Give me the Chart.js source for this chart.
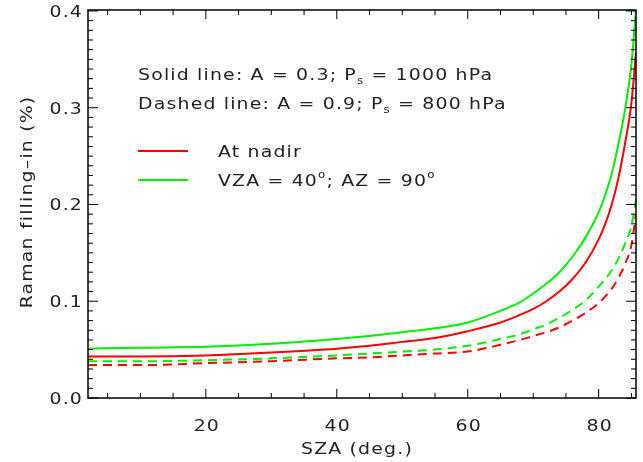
<!DOCTYPE html>
<html><head><meta charset="utf-8">
<script src="https://cdn.jsdelivr.net/npm/chart.js@4"></script>
<style>html,body{margin:0;background:#fff}#w{width:643px;height:462px}</style>
</head><body><div id="w"><canvas id="c"></canvas></div>
<script>
const sza = [2,10,20,30,40,45,50,55,60,65,68,70,72,74,76,78,80,81,82,83,84,85,85.7];
const vzaSolid   = [0.051,0.052,0.053,0.056,0.061,0.064,0.068,0.072,0.078,0.090,0.099,0.108,0.118,0.130,0.146,0.166,0.192,0.210,0.232,0.262,0.297,0.345,0.401];
const nadirSolid = [0.043,0.043,0.044,0.047,0.051,0.054,0.058,0.062,0.069,0.078,0.086,0.092,0.100,0.110,0.123,0.140,0.164,0.180,0.200,0.227,0.262,0.305,0.357];
const vzaDash    = [0.038,0.038,0.039,0.041,0.044,0.046,0.048,0.050,0.054,0.061,0.066,0.071,0.076,0.083,0.091,0.101,0.115,0.123,0.132,0.144,0.159,0.178,0.205];
const nadirDash  = [0.034,0.034,0.036,0.038,0.041,0.042,0.044,0.046,0.048,0.055,0.060,0.064,0.068,0.073,0.080,0.088,0.098,0.105,0.113,0.124,0.138,0.158,0.190];
const xTicks = [20, 40, 60, 80];
const yTicks = [0.0, 0.1, 0.2, 0.3, 0.4];
const RED = '#ff0000', GREEN = '#00ee00', TXT = '#222';
const FONT = '"DejaVu Sans", sans-serif';
const SX = 1.18;
const mk = (d, c, dash) => ({data: sza.map((x,i)=>({x, y:d[i]})), borderColor:c, borderWidth:2,
  borderDash: dash?[9,6]:[], pointRadius:0, cubicInterpolationMode:'monotone', fill:false});

function txt(g, t, x, y, size, align){
  g.font = size+'px '+FONT; g.letterSpacing = '1px';
  const w = g.measureText(t).width*SX;
  let x0 = align==='center'? x-w/2 : align==='right'? x-w : x;
  g.save(); g.translate(x0, y); g.scale(SX,1); g.textAlign='left'; g.fillText(t,0,0); g.restore();
  return w;
}

const deco = {
  id:'deco',
  afterDraw(ch){
    const g = ch.ctx, a = ch.chartArea, xs = ch.scales.x, ys = ch.scales.y;
    g.save();
    g.strokeStyle = '#000'; g.lineWidth = 1.5;
    g.strokeRect(a.left, a.top, a.right-a.left, a.bottom-a.top);
    g.lineWidth = 1;
    g.beginPath();
    for (let v=5; v<=85; v+=5){
      const p = xs.getPixelForValue(v), L = (v%20===0)?9:5;
      g.moveTo(p,a.bottom); g.lineTo(p,a.bottom-L);
      g.moveTo(p,a.top); g.lineTo(p,a.top+L);
    }
    for (let k=0; k<=40; k++){
      const p = ys.getPixelForValue(k/100), L = (k%10===0)?10:5;
      g.moveTo(a.left,p); g.lineTo(a.left+L,p);
      g.moveTo(a.right,p); g.lineTo(a.right-L,p);
    }
    g.stroke();
    g.fillStyle = TXT; g.textBaseline='alphabetic';
    yTicks.forEach(v=>txt(g, v.toFixed(1), a.left-5, ys.getPixelForValue(v)+6, 16, 'right'));
    xTicks.forEach(v=>txt(g, String(v), xs.getPixelForValue(v)+1, 431, 16, 'center'));
    txt(g, 'SZA (deg.)', (a.left+a.right)/2 - 5, 454, 16, 'center');
    g.save(); g.translate(32, (a.top+a.bottom)/2 - 2); g.rotate(-Math.PI/2);
    txt(g, 'Raman filling\u2013in (%)', 0, 0, 16, 'center'); g.restore();
    const seg = (parts, x, y) => {
      parts.forEach(([t, mode])=>{
        if (mode==='sub') x += txt(g,t,x,y+4,10,'left');
        else if (mode==='sup') x += txt(g,t,x,y-8,10,'left');
        else x += txt(g,t,x,y,16,'left');
      });
    };
    seg([['Solid line: A = 0.3; P'],['s','sub'],[' = 1000 hPa']], 138, 80);
    seg([['Dashed line: A = 0.9; P'],['s','sub'],[' = 800 hPa']], 138, 109);
    g.lineWidth = 2;
    g.strokeStyle = RED; g.beginPath(); g.moveTo(138,151); g.lineTo(188,151); g.stroke();
    g.strokeStyle = GREEN; g.beginPath(); g.moveTo(138,180); g.lineTo(188,180); g.stroke();
    seg([['At nadir']], 218, 157);
    seg([['VZA = 40'],['o','sup'],['; AZ = 90'],['o','sup']], 218, 186);
    g.restore();
  }
};

new Chart(document.getElementById('c'), {
  type:'line',
  data:{datasets:[mk(nadirDash,RED,true), mk(vzaDash,GREEN,true), mk(nadirSolid,RED,false), mk(vzaSolid,GREEN,false)]},
  options:{
    responsive:true, maintainAspectRatio:false, animation:false,
    layout:{padding:{top:10, right:7, left:0, bottom:0}},
    plugins:{legend:{display:false}, tooltip:{enabled:false}},
    scales:{
      x:{type:'linear', min:2, max:85.7, grid:{display:false}, border:{display:false},
         ticks:{display:false}, afterFit(s){ s.height = 64; }},
      y:{min:0, max:0.401, grid:{display:false}, border:{display:false},
         ticks:{display:false}, afterFit(s){ s.width = 88; }}
    }
  },
  plugins:[deco]
});
</script></body></html>
